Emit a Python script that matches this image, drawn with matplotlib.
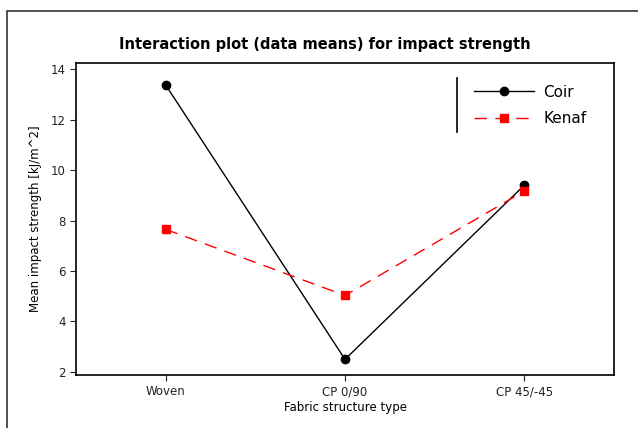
import matplotlib.pyplot as plt
from matplotlib.patches import Rectangle
from matplotlib.lines import Line2D

# Medias de resistencia al impacto por tipo de tejido
tipos = ['Woven', 'CP 0/90', 'CP 45/-45']
coir = [13.37, 2.5, 9.4]
kenaf = [7.65, 5.03, 9.17]
yticks = [2, 4, 6, 8, 10, 12, 14]

fig = plt.figure(figsize=(6.38, 4.28), dpi=100)
ax = fig.add_axes([76 / 638, 1 - 375 / 428, 538 / 638, 312 / 428])

x = range(len(tipos))
ax.plot(x, coir, color='black', lw=1, marker='o', ms=6, label='Coir')
ax.plot(x, kenaf, color='red', lw=1, ls=(0, (9, 6)), marker='s', ms=5.5, label='Kenaf')

ax.set_xlim(-0.5, 2.5)
ax.set_ylim(1.88, 14.24)
ax.set_xticks(list(x))
ax.set_xticklabels(tipos)
ax.set_yticks(yticks)
ax.tick_params(direction='out', length=4, width=0.8, labelsize=8.5, colors='#222222')
for s in ax.spines.values():
    s.set_linewidth(1.2)

ax.set_xlabel('Fabric structure type', fontsize=8.5, labelpad=2)
ax.set_ylabel('Mean impact strength [kJ/m^2]', fontsize=8.5, labelpad=6)

fig.text(325 / 638, 1 - 44 / 428, 'Interaction plot (data means) for impact strength',
         ha='center', va='center', fontsize=10.5, fontweight='bold')

leg = ax.legend(loc='upper left', bbox_to_anchor=(0.715, 0.975), frameon=False,
                fontsize=11, handlelength=3.9, handletextpad=0.6, labelspacing=0.75)
ax.add_line(Line2D([0.708, 0.708], [0.779, 0.952], transform=ax.transAxes,
                   color='black', lw=1.2))

# Marco exterior
fig.patches.append(Rectangle((7 / 638, -0.1), 1.2, 1 - 11 / 428 + 0.1,
                             transform=fig.transFigure, fill=False,
                             edgecolor='#333333', lw=1.2))

plt.savefig('out.png', dpi=100)
